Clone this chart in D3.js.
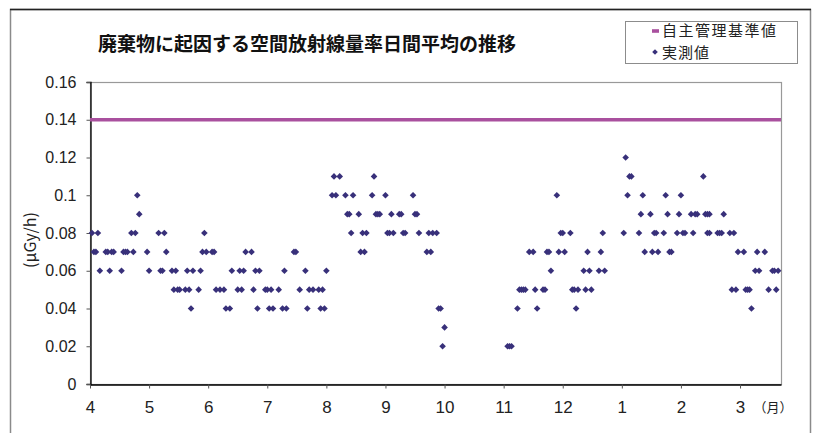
<!DOCTYPE html>
<html>
<head>
<meta charset="utf-8">
<script src="https://cdn.jsdelivr.net/npm/d3@7"></script>
<style>
  body { margin: 0; background: #fff; }
  svg text { font-family: "Liberation Sans", Arial, sans-serif; }
  .jp { font-family: "Noto Sans CJK JP", sans-serif !important; }
</style>
</head>
<body>
<div id="chart"></div>
<script>

// month labels on the x axis (fiscal year, April -> March)
var month_labels = ["4", "5", "6", "7", "8", "9", "10", "11", "12", "1", "2", "3"];
var month_days = [30, 31, 30, 31, 31, 30, 31, 30, 31, 31, 29, 31];
var y_ticks = [0, 0.02, 0.04, 0.06, 0.08, 0.1, 0.12, 0.14, 0.16];
var standard_value = 0.14;   // 自主管理基準値

// measured values, [day of month, uGy/h]
var apr = [[2,.08],[3,.07],[4,.07],[5,.08],[6,.06],[9,.07],[10,.07],[11,.06],[12,.07],[13,.07],
           [17,.06],[18,.07],[19,.07],[20,.07],[22,.08],[23,.07],[24,.08],[25,.10],[26,.09],[30,.07]];
var may = [[1,.06],[6,.08],[7,.06],[8,.06],[9,.08],[10,.07],[13,.06],[14,.05],[15,.06],[16,.05],
           [17,.05],[20,.05],[21,.06],[22,.05],[23,.04],[24,.06],[27,.05],[28,.06],[29,.07],[30,.08],[31,.07]];
var jun = [[3,.07],[4,.07],[5,.05],[7,.05],[9,.05],[10,.04],[12,.04],[13,.06],[16,.05],[17,.06],
           [18,.05],[19,.06],[20,.07],[23,.07],[24,.05],[25,.06],[26,.04],[27,.06],[30,.05]];
var jul = [[1,.05],[2,.04],[3,.05],[4,.04],[7,.05],[9,.04],[10,.06],[11,.04],[15,.07],[16,.07],
           [18,.05],[21,.06],[22,.04],[23,.05],[25,.05],[28,.05],[29,.04],[30,.05],[31,.04]];
var aug = [[1,.06],[4,.10],[5,.11],[6,.10],[8,.11],[11,.10],[12,.09],[13,.09],[14,.08],[15,.10],
           [18,.09],[19,.07],[20,.08],[21,.07],[22,.08],[25,.10],[26,.11],[27,.09],[28,.09],[29,.09]];
var sep = [[1,.10],[2,.08],[3,.08],[4,.09],[5,.08],[8,.09],[9,.09],[10,.08],[11,.08],[15,.10],
           [16,.09],[17,.09],[18,.08],[22,.07],[23,.08],[24,.07],[25,.08],[27,.08],[28,.04],[29,.04],[30,.02]];
var oct = [[1,.03]];
var nov = [[3,.02],[4,.02],[5,.02],[8,.04],[9,.05],[10,.05],[11,.05],[12,.05],[14,.07],[16,.07],
           [17,.05],[18,.04],[21,.05],[22,.05],[23,.07],[24,.07],[25,.06],[28,.10],[29,.07],[30,.08]];
var dec = [[1,.08],[2,.07],[5,.08],[6,.05],[7,.05],[8,.04],[9,.05],[12,.06],[13,.05],[14,.07],
           [15,.06],[16,.05],[20,.06],[21,.07],[22,.08],[23,.06]];
var jan = [[2,.08],[3,.12],[4,.10],[5,.11],[6,.11],[10,.08],[11,.09],[12,.10],[13,.07],[16,.09],
           [17,.07],[18,.08],[19,.08],[20,.07],[23,.08],[24,.10],[25,.09],[26,.07],[27,.07],[30,.08],[31,.09]];
var feb = [[1,.10],[2,.08],[3,.08],[6,.09],[7,.08],[8,.09],[9,.09],[12,.11],[13,.09],[14,.09],
           [14,.08],[15,.09],[15,.08],[19,.08],[20,.08],[21,.08],[22,.09],[25,.08],[26,.05],[27,.08],
           [28,.05],[29,.07]];
var mar = [[3,.07],[4,.05],[5,.05],[6,.05],[7,.04],[9,.06],[10,.07],[11,.06],[14,.07],[16,.05],
           [18,.06],[19,.06],[20,.05],[21,.06]];
var last_day = 22.5; // axis ends a little after the last reading in March

var months = [apr, may, jun, jul, aug, sep, oct, nov, dec, jan, feb, mar];

var data = [];
months.forEach(function(m, i) {
  m.forEach(function(d) {
    data.push({ t: i + (d[0] - 1) / month_days[i], v: d[1] });
  });
});

var width = 816, height = 433;
var margin = { left: 90, right: 35, top: 82, bottom: 49 };

var svg = d3.select("#chart").append("svg")
    .attr("width", width)
    .attr("height", height);

// outer frame
svg.append("path")
    .attr("d", "M10.5,440 V9.5 H810.5 V440")
    .attr("fill", "none")
    .attr("stroke", "#8a8a8a")
    .attr("stroke-width", 1.5);
svg.append("line")
    .attr("x1", 10).attr("x2", 811).attr("y1", 9.5).attr("y2", 9.5)
    .attr("stroke", "#222").attr("stroke-width", 1.3);

var x = d3.scaleLinear()
    .domain([0, 11 + (last_day - 1) / month_days[11]])
    .range([margin.left, width - margin.right]);
var y = d3.scaleLinear()
    .domain([0, 0.16])
    .range([height - margin.bottom, margin.top]);

// plot area border
svg.append("rect")
    .attr("x", x.range()[0] + 0.5)
    .attr("y", y(0.16) + 0.5)
    .attr("width", x.range()[1] - x.range()[0])
    .attr("height", y(0) - y(0.16))
    .attr("fill", "none")
    .attr("stroke", "#999")
    .attr("stroke-width", 1.2);

// y axis
var yAxis = svg.append("g")
    .attr("transform", "translate(" + (margin.left + 0.5) + ",0)")
    .call(d3.axisLeft(y).tickValues(y_ticks).tickSize(4).tickPadding(10)
      .tickFormat(function(d) { return d === 0 ? "0" : String(+d.toFixed(2)); }));
yAxis.select(".domain").attr("stroke", "#000").attr("stroke-width", 1.3);
yAxis.selectAll(".tick line").attr("stroke", "#555");
yAxis.selectAll("text").attr("font-size", 16).attr("fill", "#222");

// x axis
var xAxis = svg.append("g")
    .attr("transform", "translate(0," + (y(0) + 0.5) + ")")
    .call(d3.axisBottom(x).tickValues(d3.range(12)).tickSize(4).tickSizeOuter(0).tickPadding(12)
      .tickFormat(function(d, i) { return month_labels[i]; }));
xAxis.select(".domain").attr("stroke", "#000").attr("stroke-width", 1.3);
xAxis.selectAll(".tick line").attr("stroke", "#555");
xAxis.selectAll("text")
    .attr("font-size", 17)
    .attr("fill", "#222")
    .attr("font-family", "'Liberation Sans Narrow', 'Liberation Sans', sans-serif");

svg.append("text")
    .attr("class", "jp")
    .attr("x", 773).attr("y", 412)
    .attr("text-anchor", "middle")
    .attr("font-size", 13)
    .attr("fill", "#222")
    .text("（月）");

// y axis title
svg.append("text")
    .attr("class", "jp")
    .attr("transform", "translate(36,240) rotate(-90)")
    .attr("text-anchor", "middle")
    .attr("font-size", 16)
    .attr("fill", "#222")
    .text("(μGy/h)");

// chart title
svg.append("text")
    .attr("class", "jp")
    .attr("x", 98).attr("y", 51)
    .attr("font-size", 19)
    .attr("font-weight", "bold")
    .attr("fill", "#111")
    .text("廃棄物に起因する空間放射線量率日間平均の推移");

var line_color = "#a9509e";
var dot_color = "#38307a";

// standard value line
svg.append("line")
    .attr("x1", x.range()[0]).attr("x2", x.range()[1])
    .attr("y1", y(standard_value)).attr("y2", y(standard_value))
    .attr("stroke", line_color)
    .attr("stroke-width", 3.6);

var diamond = "M0,-3.3L3.3,0L0,3.3L-3.3,0Z";

svg.append("g").selectAll(".dot")
    .data(data)
  .enter().append("path")
    .attr("class", "dot")
    .attr("d", diamond)
    .attr("transform", function(d) { return "translate(" + x(d.t) + "," + y(d.v) + ")"; })
    .attr("fill", dot_color);

// legend
var legend = svg.append("g");
legend.append("rect")
    .attr("x", 625.5).attr("y", 21.5)
    .attr("width", 172).attr("height", 42)
    .attr("fill", "#fff")
    .attr("stroke", "#8c8c8c");
legend.append("line")
    .attr("x1", 652).attr("x2", 659).attr("y1", 31).attr("y2", 31)
    .attr("stroke", line_color).attr("stroke-width", 3.6);
legend.append("text")
    .attr("class", "jp")
    .attr("x", 662).attr("y", 36)
    .attr("font-size", 15)
    .attr("letter-spacing", 1.5)
    .attr("fill", "#222")
    .text("自主管理基準値");
legend.append("path")
    .attr("d", "M0,-2.8L2.8,0L0,2.8L-2.8,0Z")
    .attr("transform", "translate(655,52)")
    .attr("fill", dot_color);
legend.append("text")
    .attr("class", "jp")
    .attr("x", 662).attr("y", 58)
    .attr("font-size", 15)
    .attr("letter-spacing", 1)
    .attr("fill", "#222")
    .text("実測値");

</script>
</body>
</html>
